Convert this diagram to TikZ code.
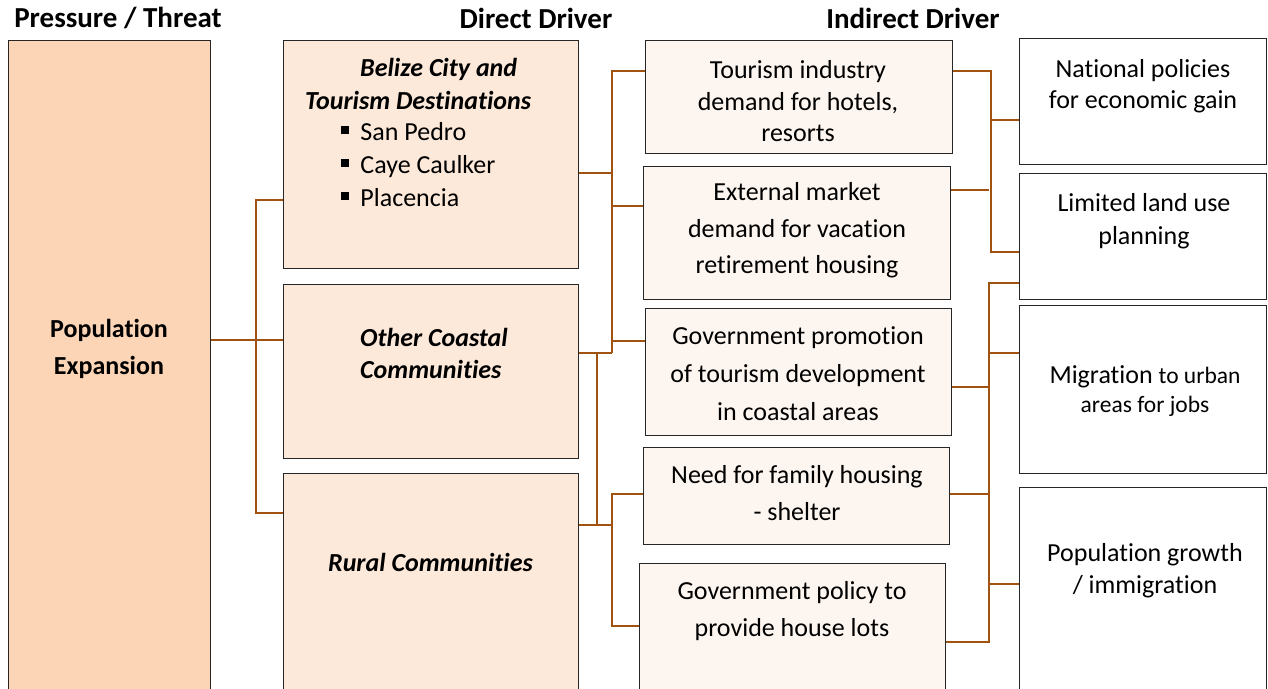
\documentclass[tikz,border=0pt]{standalone}
\usepackage{fontspec}
\setmainfont{Carlito}[Ligatures=NoCommon]
\definecolor{pfill}{HTML}{FBD5B5}
\definecolor{dfill}{HTML}{FDE9D9}
\definecolor{ifill}{HTML}{FDF5EF}
\definecolor{boxline}{HTML}{262626}
\definecolor{conncol}{HTML}{A0520F}
\newcommand\bul{\rule[0.28em]{0.3em}{0.3em}\hspace{0.44em}}
\newcommand\smtxt{\fontsize{23.5}{29}\selectfont}
\begin{document}
\begin{tikzpicture}[x=1pt,y=-1pt,
  box/.style={draw=boxline, line width=1.3pt, inner sep=0pt, anchor=north west},
  conn/.style={draw=conncol, line width=1.4pt},
  txt/.style={align=center, inner sep=0pt},
  hdr/.style={font=\fontsize{29}{34}\selectfont\bfseries, inner sep=0pt}]
\useasboundingbox (0,0) rectangle (1268,688);
\clip (0,0) rectangle (1268,688);
\fill[white] (0,0) rectangle (1268,688);

% boxes
\node[box, fill=pfill, minimum width=202pt, minimum height=660pt] (P) at (8,40) {};
\node[box, fill=dfill, minimum width=295pt, minimum height=228pt] (D1) at (283,40) {};
\node[box, fill=dfill, minimum width=295pt, minimum height=174pt] (D2) at (283,284) {};
\node[box, fill=dfill, minimum width=295pt, minimum height=227pt] (D3) at (283,473) {};
\node[box, fill=ifill, minimum width=307pt, minimum height=113pt] (A) at (645,40) {};
\node[box, fill=ifill, minimum width=307pt, minimum height=133pt] (B) at (643,166) {};
\node[box, fill=ifill, minimum width=306pt, minimum height=127pt] (C) at (645,308) {};
\node[box, fill=ifill, minimum width=306pt, minimum height=97pt] (D) at (643,447) {};
\node[box, fill=ifill, minimum width=306pt, minimum height=137pt] (E) at (639,563) {};
\node[box, fill=white, minimum width=247pt, minimum height=126pt] (R1) at (1019,38) {};
\node[box, fill=white, minimum width=247pt, minimum height=126pt] (R2) at (1019,173) {};
\node[box, fill=white, minimum width=247pt, minimum height=168pt] (R3) at (1019,305) {};
\node[box, fill=white, minimum width=247pt, minimum height=213pt] (R4) at (1019,487) {};

% headers
\node[hdr] (h1) at (118,18) {Pressure / Threat};
\node[hdr] (h2) at (536,18) {Direct Driver};
\node[hdr] (h3) at (913,18) {Indirect Driver};

% texts
\node[txt, font=\fontsize{26}{37}\selectfont\bfseries] (tP) at (109,348.5) {Population\\Expansion};
\node[anchor=west, align=left, inner sep=0pt, font=\fontsize{26}{33}\selectfont\bfseries\itshape] (tD1) at (305,84) {\hspace*{55pt}Belize City and\\Tourism Destinations};
\node[anchor=west, align=left, inner sep=0pt, font=\fontsize{26}{33}\selectfont] (tD1b) at (341,165) {\bul San Pedro\\\bul Caye Caulker\\\bul Placencia};
\node[anchor=west, align=left, inner sep=0pt, font=\fontsize{26}{32}\selectfont\bfseries\itshape] (tD2) at (360,353) {Other Coastal\\Communities};
\node[txt, font=\fontsize{26}{32}\selectfont\bfseries\itshape] (tD3) at (430.5,562) {Rural Communities};

\node[txt, font=\fontsize{26}{31.5}\selectfont] (tA) at (798,101.5) {Tourism industry\\demand for hotels,\\resorts};
\node[txt, font=\fontsize{26}{36.5}\selectfont] (tB) at (797,230.5) {External market\\demand for vacation\\retirement housing};
\node[txt, font=\fontsize{26}{38}\selectfont] (tC) at (798,374) {Government promotion\\of tourism development\\in coastal areas};
\node[txt, font=\fontsize{26}{37}\selectfont] (tD) at (797,493.5) {Need for family housing\\- shelter};
\node[txt, font=\fontsize{26}{37}\selectfont] (tE) at (792,611.5) {Government policy to\\provide house lots};

\node[txt, font=\fontsize{26}{31}\selectfont] (tR1) at (1143,86.5) {National policies\\for economic gain};
\node[txt, font=\fontsize{26}{33}\selectfont] (tR2) at (1144,221.5) {Limited land use\\planning};
\node[txt, font=\fontsize{26}{29}\selectfont] (tR3) at (1145,391.5) {Migration {\smtxt to urban}\\{\smtxt areas for jobs}};
\node[txt, font=\fontsize{26}{32}\selectfont] (tR4) at (1145,571) {Population growth\\/ immigration};

% connectors left
\coordinate (L0) at (256,340);
\coordinate (L1) at (256,200);
\coordinate (L2) at (256,513);
\draw[conn] (P.east |- L0) -- (D2.west |- L0);
\draw[conn] (D1.west |- L1) -- (L1) -- (L2) -- (D3.west |- L2);

% connectors middle
\coordinate (m0) at (612,173);
\coordinate (m1) at (612,71);
\coordinate (m2) at (612,206);
\coordinate (m3) at (612,341);
\coordinate (m4) at (612,353);
\draw[conn] (D1.east |- m0) -- (m0);
\draw[conn] (A.west |- m1) -- (m1) -- (m4);
\draw[conn] (B.west |- m2) -- (m2);
\draw[conn] (C.west |- m3) -- (m3);
\coordinate (n1) at (597,353);
\coordinate (n2) at (597,525);
\draw[conn] (D2.east |- n1) -- (m4);
\draw[conn] (n1) -- (n2);
\coordinate (k0) at (612,525);
\coordinate (k1) at (612,494);
\coordinate (k2) at (612,626);
\draw[conn] (D3.east |- n2) -- (k0);
\draw[conn] (D.west |- k1) -- (k1) -- (k2) -- (E.west |- k2);

% connectors right
\coordinate (r1) at (991,71);
\coordinate (r2) at (991,120);
\coordinate (r3) at (991,252);
\draw[conn] (A.east |- r1) -- (r1) -- (r3) -- (R2.west |- r3);
\draw[conn] (r2) -- (R1.west |- r2);
\coordinate (r4) at (989,190);
\draw[conn] (B.east |- r4) -- (r4);
\coordinate (s1) at (989,283);
\coordinate (s2) at (989,353);
\coordinate (s3) at (989,387);
\coordinate (s4) at (989,494);
\coordinate (s5) at (989,584);
\coordinate (s6) at (989,642);
\draw[conn] (R2.west |- s1) -- (s1) -- (s6) -- (E.east |- s6);
\draw[conn] (s2) -- (R3.west |- s2);
\draw[conn] (C.east |- s3) -- (s3);
\draw[conn] (D.east |- s4) -- (s4);
\draw[conn] (s5) -- (R4.west |- s5);
\end{tikzpicture}
\end{document}
